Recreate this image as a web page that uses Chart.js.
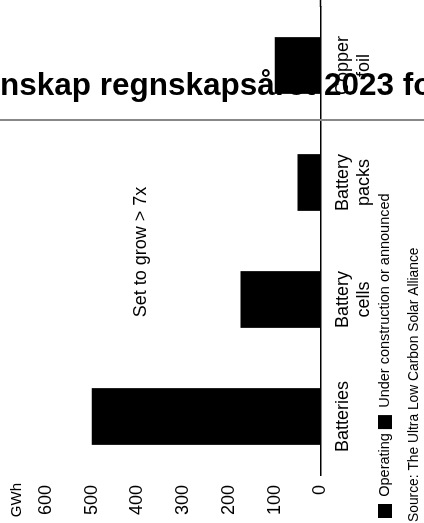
<!DOCTYPE html>
<html>
<head>
<meta charset="utf-8">
<script src="https://cdn.jsdelivr.net/npm/chart.js@4.4.1/dist/chart.umd.min.js"></script>
<style>
  html, body { margin: 0; padding: 0; width: 424px; height: 523px; overflow: hidden; background: #fff; }
  /* the chart is laid out upright, then turned a quarter turn counter-clockwise */
  #frame { position: absolute; left: 0; top: 0; width: 560px; height: 424px;
           transform-origin: 0 0; transform: translate(0, 523px) rotate(-90deg); }
  #frame canvas { display: block; }
  #heading { position: absolute; left: 0; top: 69px; margin: 0;
             font: bold 31.5px/31px "Liberation Sans", Arial, sans-serif; color: #000; white-space: nowrap; }
  #rule { position: absolute; left: 0; top: 119px; width: 424px; height: 2px; background: #888; }
</style>
</head>
<body>
<div id="frame"><canvas id="chart"></canvas></div>
<div id="heading">nskap regnskapsåret 2023 for</div>
<div id="rule"></div>
<script>
// Manufacturing capacity by supply-chain step (GWh)
const categories = [['Batteries'], ['Battery', 'cells'], ['Battery', 'packs'], ['Copper', 'foil']];
const capacity = [500, 175, 50, 100];
const valueTicks = [0, 100, 200, 300, 400, 500, 600];
const legendNames = ['Operating', 'Under construction or announced'];
const unitLabel = 'GWh';
const noteText = 'Set to grow > 7x';
const sourceText = 'Source: The Ultra Low Carbon Solar Alliance';

Chart.defaults.font.family = '"Liberation Sans", Arial, Helvetica, sans-serif';
Chart.defaults.color = '#000';

// unit label above the value ticks, growth note, and the category baseline run to the edge
const extras = {
  id: 'extras',
  afterDraw(chart) {
    const { ctx, chartArea } = chart;
    ctx.save();
    ctx.fillStyle = '#000';
    ctx.font = '15px "Liberation Sans", Arial, sans-serif';
    ctx.textAlign = 'right';
    ctx.textBaseline = 'middle';
    ctx.fillText(unitLabel, chartArea.left - 8, chartArea.top - 29);

    ctx.font = '18px "Liberation Sans", Arial, sans-serif';
    ctx.textAlign = 'center';
    ctx.textBaseline = 'alphabetic';
    ctx.fillText(noteText, chartArea.left + 223, chartArea.top + 100);

    ctx.strokeStyle = '#000';
    ctx.lineWidth = 1.5;
    ctx.beginPath();
    ctx.moveTo(chartArea.right, chartArea.bottom);
    ctx.lineTo(chart.width, chartArea.bottom);
    ctx.stroke();
    ctx.restore();
  }
};

new Chart(document.getElementById('chart'), {
  type: 'bar',
  data: {
    labels: categories,
    datasets: [{
      label: legendNames[0],
      data: capacity,
      backgroundColor: '#000',
      borderWidth: 0,
      categoryPercentage: 1,
      barPercentage: 0.485
    }]
  },
  options: {
    responsive: true,
    maintainAspectRatio: false,
    devicePixelRatio: 1,
    animation: false,
    layout: { padding: { top: 46, left: 1, right: 44, bottom: 0 } },
    scales: {
      x: {
        afterFit(scale) { scale.height = 53.25; },
        grid: { display: false, drawTicks: false },
        border: { display: true, color: '#000', width: 1.5 },
        ticks: { font: { size: 18 }, color: '#000', padding: 11.5, maxRotation: 0, autoSkip: false }
      },
      y: {
        min: 0,
        max: 600,
        afterBuildTicks(scale) { scale.ticks = valueTicks.map(v => ({ value: v })); },
        afterFit(scale) { scale.width = 47; },
        grid: { display: false, drawTicks: false },
        border: { display: false },
        ticks: { font: { size: 18 }, color: '#000', padding: 10 }
      }
    },
    plugins: {
      legend: {
        position: 'bottom',
        align: 'start',
        labels: {
          boxWidth: 14,
          boxHeight: 14,
          padding: 4,
          font: { size: 14.5 },
          color: '#000',
          generateLabels: () => legendNames.map(t => ({
            text: t, fillStyle: '#000', strokeStyle: '#000', lineWidth: 0, hidden: false, datasetIndex: 0
          }))
        },
        onClick: null
      },
      subtitle: {
        display: true,
        text: sourceText,
        position: 'bottom',
        align: 'start',
        color: '#000',
        font: { size: 13.8, weight: 'normal' },
        padding: { top: 3.2, bottom: 2 }
      },
      tooltip: { enabled: false }
    }
  },
  plugins: [extras]
});
</script>
</body>
</html>
